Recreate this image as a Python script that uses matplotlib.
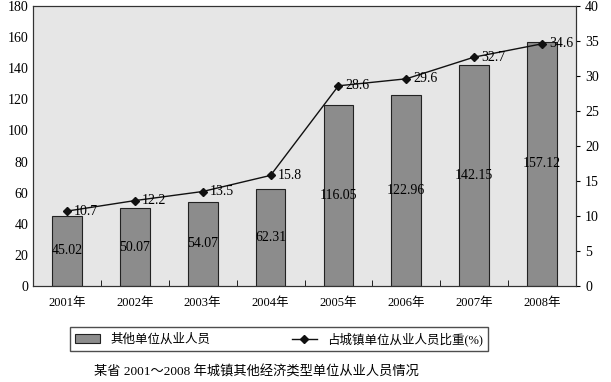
import matplotlib
matplotlib.use("Agg")
import matplotlib.pyplot as plt
import numpy as np

plt.rcParams['font.family'] = ['Liberation Serif', 'Noto Sans CJK SC']

years = ['2001年', '2002年', '2003年', '2004年', '2005年', '2006年', '2007年', '2008年']
workers = [45.02, 50.07, 54.07, 62.31, 116.05, 122.96, 142.15, 157.12]
share = [10.7, 12.2, 13.5, 15.8, 28.6, 29.6, 32.7, 34.6]

fig = plt.figure(figsize=(6.11, 3.82), dpi=100)
ax = fig.add_axes([33/611, 1-286/382, 543/611, 280/382])
ax.set_facecolor('#e6e6e6')

x = np.arange(len(years))
bars = ax.bar(x, workers, width=0.44, color='#8c8c8c', edgecolor='#222222', linewidth=0.8,
              label='其他单位从业人员', zorder=2)
for xi, v in zip(x, workers):
    ax.text(xi, v / 2, '%.2f' % v, ha='center', va='center', fontsize=10, zorder=3)

ax.set_xlim(-0.5, len(years) - 0.5)
ax.set_ylim(0, 180)
ax.set_yticks(range(0, 181, 20))
ax.set_xticks(x)
ax.set_xticklabels(years, fontsize=9)
ax.set_xticks(np.arange(-0.5, len(years), 1), minor=True)
ax.tick_params(axis='x', which='major', length=0, pad=8)
ax.tick_params(axis='x', which='minor', direction='in', length=4)
ax.tick_params(axis='y', length=0, labelsize=10)

ax2 = ax.twinx()
ax2.set_ylim(0, 40)
ax2.set_yticks(range(0, 41, 5))
ax2.tick_params(axis='y', length=3, labelsize=10)
line, = ax2.plot(x, share, color='#111111', marker='D', markersize=4, linewidth=1,
                 label='占城镇单位从业人员比重(%)')
for xi, v in zip(x, share):
    ax2.text(xi + 0.1, v, '%g' % v, ha='left', va='center', fontsize=10)

for a in (ax, ax2):
    for s in a.spines.values():
        s.set_color('#333333')

fig.legend([bars, line], ['其他单位从业人员', '占城镇单位从业人员比重(%)'],
           loc='center', bbox_to_anchor=(279/611, 1-339/382), ncol=2, fontsize=9,
           frameon=True, fancybox=False, edgecolor='#222222', columnspacing=6.5,
           handlelength=2, borderpad=0.4)

fig.text(256/611, 1-372/382, '某省 2001～2008 年城镇其他经济类型单位从业人员情况',
         ha='center', va='center', fontsize=9.5)

fig.savefig('out.png', dpi=100)
